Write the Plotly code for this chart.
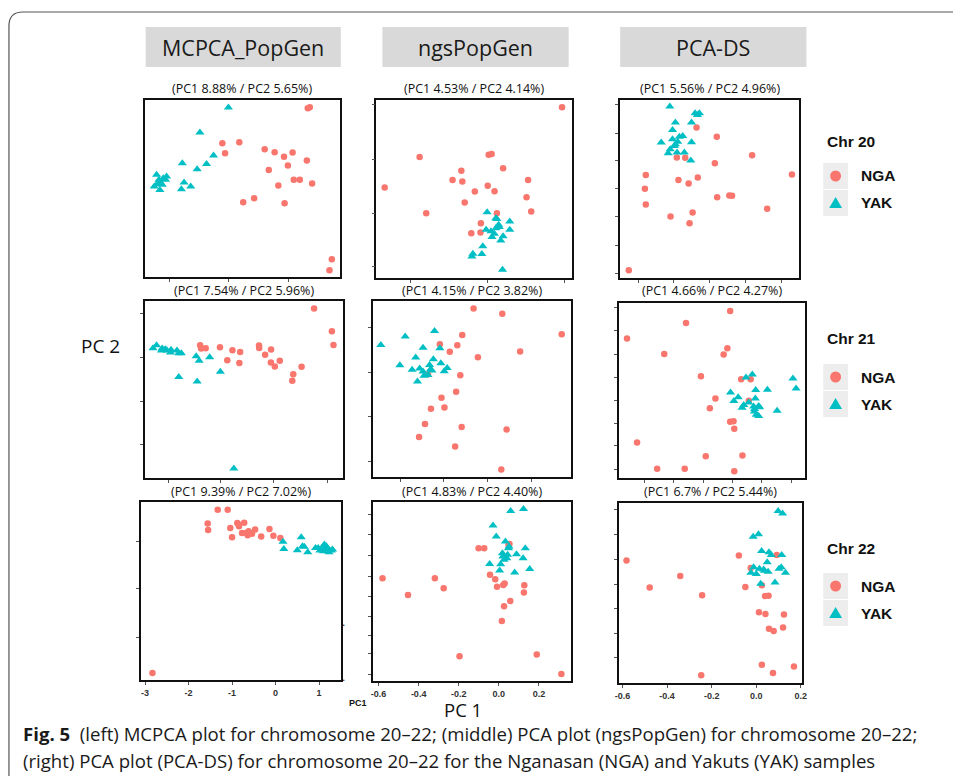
import plotly.graph_objects as go

W, H = 958, 776
NGA_COLOR = "#F8766D"
YAK_COLOR = "#00BFC4"

# ---------------- data ----------------
# Upper panels have no tick labels: x, y are in frame units 0-100.
# Chr 20
mc20_nga_x = [83.6, 84.6, 39.8, 48.5, 41.2, 61.5, 66.6, 71.4, 75.8, 83.1, 73.4, 63.6, 76.4, 79.5, 85.8, 68.5, 50.5, 56.1, 71.7, 95.9, 94.7]
mc20_nga_y = [95.3, 95.9, 75.6, 76.1, 69.9, 72.2, 70.5, 67.9, 70.3, 65.8, 63.0, 60.5, 54.9, 54.9, 52.8, 51.7, 42.3, 44.5, 41.7, 10.0, 3.8]
mc20_yak_x = [42.9, 28.3, 35.3, 31.7, 19.3, 26.9, 6.1, 11.2, 9.5, 7.3, 8.1, 6.4, 4.9, 9.0, 7.8, 10.7, 20.2, 23.6, 18.8]
mc20_yak_y = [95.7, 81.6, 68.6, 63.9, 64.3, 60.9, 57.7, 56.8, 55.8, 54.9, 53.4, 52.6, 51.1, 52.1, 49.2, 54.9, 53.4, 51.1, 49.6]

ngs20_nga_x = [95.1, 22.1, 57.5, 59.0, 64.9, 43.5, 39.0, 44.0, 4.2, 57.0, 50.4, 60.5, 77.7, 76.9, 45.2, 79.3, 25.5, 61.7, 53.5, 48.6, 53.3]
ngs20_nga_y = [95.9, 68.0, 69.2, 69.7, 61.7, 60.2, 55.1, 54.2, 50.8, 51.8, 48.6, 48.8, 55.0, 45.4, 42.4, 37.4, 36.4, 36.4, 30.8, 25.2, 25.6]
ngs20_yak_x = [56.7, 61.2, 61.7, 68.3, 62.6, 62.9, 61.2, 56.2, 58.7, 60.4, 64.9, 59.2, 68.3, 63.7, 54.5, 49.4, 48.9, 54.0, 64.6]
ngs20_yak_y = [37.0, 33.6, 33.1, 31.8, 29.9, 28.6, 28.0, 27.1, 26.2, 24.9, 23.4, 23.0, 27.1, 21.1, 17.8, 13.6, 12.1, 13.5, 4.7]

ds20_nga_x = [42.6, 53.9, 73.6, 31.6, 36.3, 52.8, 95.8, 14.3, 32.5, 43.3, 38.2, 13.8, 54.1, 60.9, 62.4, 14.3, 82.0, 28.1, 40.4, 38.7, 4.8]
ds20_nga_y = [84.5, 79.4, 69.0, 67.7, 67.5, 64.5, 58.1, 57.9, 55.0, 56.4, 53.1, 50.1, 45.4, 46.4, 46.2, 41.3, 38.9, 34.6, 36.8, 30.8, 4.3]
ds20_yak_x = [27.7, 41.8, 43.1, 44.2, 30.8, 39.8, 29.2, 33.0, 34.9, 29.2, 32.1, 22.9, 30.8, 39.8, 27.9, 26.8, 31.7, 35.8, 39.4, 30.3]
ds20_yak_y = [96.3, 92.5, 91.6, 92.5, 87.3, 87.3, 83.2, 79.4, 79.8, 77.9, 76.6, 76.1, 75.1, 76.3, 72.3, 70.1, 70.5, 70.5, 66.0, 74.2]

# Chr 21
mc21_nga_x = [85.5, 94.5, 95.3, 28.0, 28.5, 30.8, 38.0, 44.3, 48.2, 57.7, 57.8, 63.8, 60.8, 41.7, 47.8, 63.7, 68.2, 65.7, 79.2, 75.0, 74.5]
mc21_nga_y = [95.7, 82.9, 75.2, 75.0, 73.1, 73.3, 73.9, 72.2, 71.2, 74.8, 73.5, 72.6, 69.7, 66.5, 65.0, 65.2, 66.2, 63.0, 62.8, 58.6, 54.9]
mc21_yak_x = [4.2, 6.0, 8.5, 9.7, 10.5, 13.3, 13.0, 16.3, 17.2, 18.5, 26.0, 27.5, 32.8, 38.2, 17.2, 26.5, 45.0, 11.3, 8.8]
mc21_yak_y = [73.3, 75.0, 72.0, 72.4, 72.7, 72.4, 70.9, 72.0, 70.5, 70.5, 68.8, 66.2, 68.2, 60.0, 57.1, 54.5, 5.3, 72.0, 73.1]

ngs21_nga_x = [51.0, 65.5, 95.5, 45.3, 34.0, 42.8, 39.0, 74.5, 53.2, 44.3, 28.0, 42.2, 34.8, 29.5, 36.3, 26.5, 45.0, 67.7, 23.5, 41.7, 65.0]
ngs21_nga_y = [95.7, 92.8, 81.1, 80.7, 75.4, 74.9, 71.1, 71.3, 68.1, 57.8, 58.4, 48.4, 45.0, 38.8, 39.5, 30.1, 28.4, 27.0, 22.7, 17.4, 4.2]
ngs21_yak_x = [4.2, 16.5, 31.3, 25.5, 34.0, 21.8, 30.7, 34.5, 13.8, 20.0, 23.8, 28.8, 29.3, 37.7, 36.2, 25.5, 30.0, 26.0, 28.0, 22.7]
ngs21_yak_y = [75.0, 79.8, 83.0, 73.5, 73.2, 67.9, 66.9, 64.7, 63.5, 60.9, 61.6, 63.7, 61.2, 62.0, 60.1, 59.9, 60.5, 57.5, 58.0, 54.3]

ds21_nga_x = [59.6, 35.9, 4.2, 24.2, 58.1, 56.1, 43.9, 65.5, 70.6, 51.7, 48.7, 69.6, 59.6, 61.4, 61.8, 9.6, 46.5, 66.2, 20.4, 35.2, 61.8]
ds21_nga_y = [95.4, 88.6, 79.7, 70.8, 74.2, 70.6, 58.1, 56.4, 56.4, 45.4, 39.8, 44.2, 32.1, 32.4, 28.1, 20.3, 12.5, 12.9, 5.3, 5.3, 3.8]
ds21_yak_x = [68.1, 71.5, 73.3, 79.6, 93.3, 95.0, 59.8, 63.9, 61.6, 73.1, 69.6, 66.9, 66.0, 72.2, 74.9, 75.4, 72.6, 73.6, 74.9, 84.8, 72.7]
ds21_yak_y = [57.5, 59.2, 50.3, 50.5, 56.9, 51.2, 48.8, 46.1, 44.0, 45.5, 43.1, 41.7, 40.2, 40.8, 41.2, 40.4, 38.0, 36.1, 35.5, 38.5, 39.5]

# Chr 22 (x in PC1 units, y in frame units 0-100)
mc22_nga_x = [-1.33, -1.10, -1.56, -1.55, -1.04, -0.88, -0.72, -0.84, -0.85, -0.77, -1.00, -0.62, -0.64, -0.54, -0.47, -0.33, -0.14, -0.05, 0.11, -2.83, -0.68, -0.58]
mc22_nga_y = [95.7, 95.7, 87.9, 84.3, 85.4, 88.2, 88.4, 86.4, 87.3, 82.6, 80.2, 83.6, 81.3, 82.2, 84.5, 80.6, 84.9, 81.1, 79.8, 3.9, 82.6, 82.6]
mc22_yak_x = [0.59, 0.17, 0.19, 0.62, 0.66, 0.50, 0.74, 0.92, 0.98, 1.12, 1.07, 1.19, 1.23, 1.28, 1.14, 1.02, 1.17, 1.10, 1.31]
mc22_yak_y = [80.2, 77.6, 73.6, 75.1, 74.8, 72.9, 71.8, 74.2, 74.2, 76.1, 74.2, 74.2, 71.8, 72.7, 73.3, 72.7, 75.1, 72.3, 73.3]

ngs22_nga_x = [-0.580, -0.319, -0.453, -0.275, -0.196, -0.101, -0.073, -0.044, -0.018, -0.009, 0.022, 0.029, 0.053, 0.057, 0.026, 0.015, 0.127, 0.125, 0.189, 0.312, 0.048]
ngs22_nga_y = [57.4, 57.4, 48.0, 51.8, 13.8, 74.2, 74.2, 59.3, 56.8, 52.7, 53.6, 54.4, 76.6, 44.7, 41.7, 33.5, 53.5, 49.5, 14.8, 3.9, 76.1]
ngs22_yak_x = [0.059, 0.123, -0.029, -0.013, 0.033, 0.051, 0.132, 0.018, 0.044, 0.088, 0.040, 0.026, 0.121, -0.046, 0.009, 0.004, 0.079, 0.154, 0.048, 0.020]
ngs22_yak_y = [95.0, 96.1, 86.9, 80.7, 77.9, 75.1, 74.2, 71.4, 70.5, 70.8, 68.6, 67.7, 68.6, 65.4, 65.2, 61.7, 60.6, 62.6, 74.2, 69.5]

ds22_nga_x = [-0.582, -0.478, -0.341, -0.243, -0.247, -0.078, -0.049, -0.025, 0.025, 0.039, 0.055, 0.012, 0.041, 0.057, 0.078, 0.124, 0.120, 0.025, 0.075, 0.169, 0.092]
ds22_nga_y = [68.0, 53.0, 59.4, 48.7, 4.3, 70.9, 53.4, 63.9, 54.3, 48.3, 48.5, 39.3, 38.3, 30.1, 28.9, 38.0, 30.8, 10.2, 5.6, 9.2, 71.1]
ds22_yak_x = [0.098, 0.118, -0.014, 0.010, 0.024, 0.057, 0.067, 0.114, 0.049, 0.112, 0.014, 0.033, 0.000, -0.024, 0.053, 0.102, 0.131, 0.020, 0.084, -0.012, 0.037]
ds22_yak_y = [95.5, 94.2, 81.2, 82.7, 73.3, 72.6, 71.1, 71.1, 67.1, 64.3, 63.5, 63.0, 60.5, 61.3, 61.8, 63.5, 61.3, 55.1, 55.8, 64.3, 62.4]

methods = ["MCPCA_PopGen", "ngsPopGen", "PCA-DS"]
chromosomes = ["Chr 20", "Chr 21", "Chr 22"]
groups = ["NGA", "YAK"]
subtitles = [
    ["(PC1 8.88% / PC2 5.65%)", "(PC1 4.53% / PC2 4.14%)", "(PC1 5.56% / PC2 4.96%)"],
    ["(PC1 7.54% / PC2 5.96%)", "(PC1 4.15% / PC2 3.82%)", "(PC1 4.66% / PC2 4.27%)"],
    ["(PC1 9.39% / PC2 7.02%)", "(PC1 4.83% / PC2 4.40%)", "(PC1 6.7% / PC2 5.44%)"],
]
mc_tickvals = [-3, -2, -1, 0, 1]
mc_ticktext = ["-3", "-2", "-1", "0", "1"]
pc_tickvals = [-0.6, -0.4, -0.2, 0.0, 0.2]
pc_ticktext = ["-0.6", "-0.4", "-0.2", "0.0", "0.2"]
caption_1 = "<b>Fig. 5</b>  (left) MCPCA plot for chromosome 20–22; (middle) PCA plot (ngsPopGen) for chromosome 20–22;"
caption_2 = "(right) PCA plot (PCA-DS) for chromosome 20–22 for the Nganasan (NGA) and Yakuts (YAK) samples"

data = [
    [(mc20_nga_x, mc20_nga_y, mc20_yak_x, mc20_yak_y),
     (ngs20_nga_x, ngs20_nga_y, ngs20_yak_x, ngs20_yak_y),
     (ds20_nga_x, ds20_nga_y, ds20_yak_x, ds20_yak_y)],
    [(mc21_nga_x, mc21_nga_y, mc21_yak_x, mc21_yak_y),
     (ngs21_nga_x, ngs21_nga_y, ngs21_yak_x, ngs21_yak_y),
     (ds21_nga_x, ds21_nga_y, ds21_yak_x, ds21_yak_y)],
    [(mc22_nga_x, mc22_nga_y, mc22_yak_x, mc22_yak_y),
     (ngs22_nga_x, ngs22_nga_y, ngs22_yak_x, ngs22_yak_y),
     (ds22_nga_x, ds22_nga_y, ds22_yak_x, ds22_yak_y)],
]

# ---------------- layout geometry (pixels) ----------------
frames = [
    [(142, 339, 100, 277), (376, 573, 100, 278), (622, 803, 100, 278)],
    [(142, 342, 301, 478), (372, 572, 301, 477), (621, 809, 303, 478)],
    [(138, 340, 502, 680), (372, 572, 502, 681), (621, 806, 503, 683)],
]
x_ranges = [
    [[0, 100], [0, 100], [0, 100]],
    [[0, 100], [0, 100], [0, 100]],
    [[-3.1, 1.50], [-0.630, 0.358], [-0.615, 0.207]],
]
x_tickpos = [
    [[12.7, 42.9, 73.7], [17.4, 56.7, 96.1], [10, 30, 50, 70, 90]],
    [[11.8, 38.5, 65.2, 92.2], [14.2, 36.0, 58.0, 80.3], [13.8, 29.4, 45.1, 60.7, 76.6, 92.6]],
    [mc_tickvals, pc_tickvals, pc_tickvals],
]
y_tickpos = [
    [[], [97.2, 66.7, 36.4, 6.2], [97.2, 81.3, 65.8, 50.1, 34.4, 18.1, 2.4]],
    [[93.0, 68.2, 43.4, 19.2], [85.1, 59.4, 34.2, 8.7], [97.3, 84.1, 70.8, 57.5, 44.2, 31.3, 18.4, 5.1]],
    [[77.6, 51.2, 23.7], [92.9, 81.7, 70.1, 58.3, 47.1, 35.9, 25.2, 15.3, 3.6], [96.2, 82.3, 68.6, 54.9, 41.4, 27.6, 14.1]],
]
sub_y = [88, 290, 491]
headers = [(143, 340), (382, 570), (622, 810)]
legend_y = [(141, 176, 203), (338, 377, 404), (548, 586, 613)]


def px(x):
    return x / W


def py(y):
    return 1 - y / H


def note(text, x, y, size, family="Open Sans", xanchor="center", color="#111"):
    return dict(text=text, x=px(x), y=py(y), xref="paper", yref="paper",
                xanchor=xanchor, yanchor="middle", showarrow=False,
                font=dict(family=family, size=size, color=color))


fig = go.Figure()
layout_axes = {}
annotations = []
shapes = []

k = 0
for r in range(3):
    for c in range(3):
        k += 1
        xa = "x" if k == 1 else f"x{k}"
        ya = "y" if k == 1 else f"y{k}"
        nx, ny, yx, yy = data[r][c]
        fig.add_trace(go.Scatter(x=nx, y=ny, mode="markers", name="NGA", xaxis=xa, yaxis=ya,
                                 marker=dict(symbol="circle", size=6.5, color=NGA_COLOR, line=dict(width=0)),
                                 showlegend=False))
        fig.add_trace(go.Scatter(x=yx, y=yy, mode="markers", name="YAK", xaxis=xa, yaxis=ya,
                                 marker=dict(symbol="triangle-up", size=8, color=YAK_COLOR, line=dict(width=0)),
                                 showlegend=False))
        l, rr, t, b = frames[r][c]
        xkey = "xaxis" if k == 1 else f"xaxis{k}"
        ykey = "yaxis" if k == 1 else f"yaxis{k}"
        xax = dict(domain=[px(l), px(rr)], range=x_ranges[r][c], anchor=ya,
                   showgrid=False, zeroline=False, showline=True, mirror=True,
                   linecolor="#111", linewidth=1.6, ticks="outside", ticklen=3,
                   tickcolor="#555", tickwidth=1, tickvals=x_tickpos[r][c],
                   showticklabels=False)
        if r == 2:
            xax.update(showticklabels=True,
                       ticktext=mc_ticktext if c == 0 else pc_ticktext,
                       tickfont=dict(family="Liberation Sans", size=9, color="#333", weight="bold"))
        yax = dict(domain=[py(b), py(t)], range=[0, 100], anchor=xa,
                   showgrid=False, zeroline=False, showline=True, mirror=True,
                   linecolor="#111", linewidth=1.6, ticks="outside", ticklen=3,
                   tickcolor="#555", tickwidth=1, tickvals=y_tickpos[r][c],
                   showticklabels=False)
        layout_axes[xkey] = xax
        layout_axes[ykey] = yax
        annotations.append(note(subtitles[r][c], (l + rr) / 2, sub_y[r], 12.5))

# method headers
for (l, rr), name in zip(headers, methods):
    shapes.append(dict(type="rect", xref="paper", yref="paper", x0=px(l), x1=px(rr),
                       y0=py(67), y1=py(27), fillcolor="#d9d9d9", line=dict(width=0), layer="below"))
    annotations.append(note(name, (l + rr) / 2, 47, 21.5, color="#1a1a1a"))

# legends (drawn as keys + text)
for (ty, ny_, yy_), chrname in zip(legend_y, chromosomes):
    annotations.append(note(f"<b>{chrname}</b>", 829, ty, 15.5, family="Liberation Sans", xanchor="left"))
    for cy, g in zip((ny_, yy_), groups):
        shapes.append(dict(type="rect", xref="paper", yref="paper", x0=px(827), x1=px(852),
                           y0=py(cy + 13), y1=py(cy - 13), fillcolor="#ededed", line=dict(width=0)))
        annotations.append(note(f"<b>{g}</b>", 863, cy, 15.5, family="Liberation Sans", xanchor="left"))
    shapes.append(dict(type="circle", xref="paper", yref="paper", x0=px(834), x1=px(845),
                       y0=py(ny_ + 5.5), y1=py(ny_ - 5.5), fillcolor=NGA_COLOR, line=dict(width=0)))
    shapes.append(dict(type="path", xref="paper", yref="paper",
                       path=f"M {px(833)},{py(yy_ + 5)} L {px(846)},{py(yy_ + 5)} L {px(839.5)},{py(yy_ - 6)} Z",
                       fillcolor=YAK_COLOR, line=dict(width=0)))

# axis titles and stray marks
annotations.append(note("PC 2", 97, 346, 19))
annotations.append(note("PC 1", 463, 709, 18.5))
annotations.append(note("<b>PC1</b>", 357, 703, 9, family="Liberation Sans"))
annotations.append(note(".", 343, 622, 12, family="Liberation Sans"))
annotations.append(note(".", 343, 677, 12, family="Liberation Sans"))

# caption
annotations.append(note(caption_1, 17, 733, 18.6, xanchor="left", color="#1a1a1a"))
annotations.append(note(caption_2, 17, 760, 18.6, xanchor="left", color="#1a1a1a"))

# outer rounded border
shapes.append(dict(type="path", xref="paper", yref="paper",
                   path=f"M {px(5)},{py(776)} L {px(5)},{py(26)} Q {px(5)},{py(12)} {px(19)},{py(12)} L {px(958)},{py(12)}",
                   line=dict(color="#555", width=1.2)))

fig.update_layout(width=W, height=H, margin=dict(l=0, r=0, t=0, b=0),
                  paper_bgcolor="white", plot_bgcolor="white",
                  showlegend=False, annotations=annotations, shapes=shapes, **layout_axes)

fig.write_html("out.html", config={"displayModeBar": False},
               post_script="document.body.style.margin='0px';")
